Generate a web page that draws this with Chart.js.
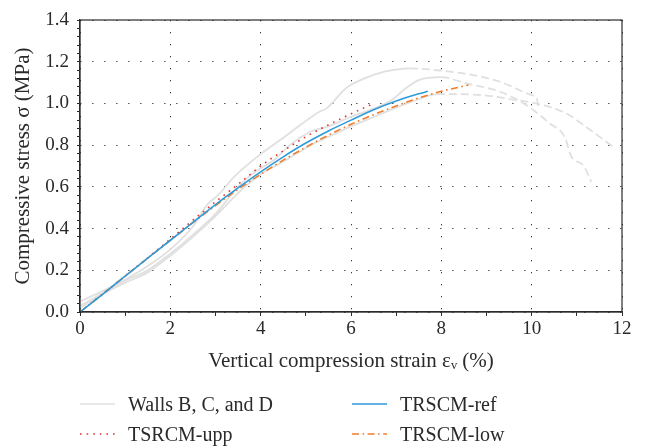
<!DOCTYPE html>
<html><head><meta charset="utf-8">
<script src="https://cdn.jsdelivr.net/npm/chart.js@4"></script>
<style>
html,body{margin:0;padding:0;background:#fff;}
#wrap{position:relative;width:646px;height:446px;overflow:hidden;}
#c{position:absolute;left:0;top:0;}
.item{position:absolute;height:24px;display:flex;align-items:center;font-family:"Liberation Serif","DejaVu Serif",serif;font-size:20px;color:#2a2a2a;white-space:nowrap;}
.item svg{margin-right:13px;}
</style></head><body>
<div id="wrap"><canvas id="c" width="646" height="446"></canvas><div id="legend"></div></div>
<script>
// ---- data ----
const seriesNames = ["Walls B, C, and D", "TSRCM-upp", "TRSCM-ref", "TRSCM-low"];

const wallBx = [0,0.5,1,1.5,2,2.5,2.8,3.1,3.4,3.9,4.5,4.9,5.3,5.45,5.9,6.3,6.7,7.0,7.3,8.0,8.7,9.3,10.0,10.12,10.15];
const wallBy = [0.05,0.1,0.155,0.22,0.3,0.41,0.51,0.57,0.645,0.74,0.835,0.9,0.96,0.975,1.075,1.12,1.15,1.162,1.168,1.157,1.136,1.104,1.04,1.02,0.97];

const wallCx = [0,0.5,1,1.5,2,2.5,3,3.5,3.8,4.3,4.65,5.1,5.5,6,6.5,6.9,7.2,7.5,8.0,8.55,9.3,9.88,10.4,10.73,10.88,11.14,11.32];
const wallCy = [0.03,0.09,0.15,0.2,0.28,0.37,0.47,0.6,0.66,0.73,0.8,0.864,0.89,0.936,0.975,1.016,1.07,1.112,1.126,1.096,1.056,0.992,0.904,0.84,0.744,0.704,0.624];

const wallDx = [0,0.5,1,1.5,2,2.5,3,3.5,4,4.5,4.8,5.2,5.6,6,6.5,7,7.5,7.9,8.9,9.66,10.1,10.77,11.2,11.8];
const wallDy = [0.02,0.085,0.14,0.19,0.27,0.36,0.46,0.57,0.66,0.72,0.76,0.81,0.85,0.89,0.935,0.98,1.02,1.045,1.04,1.016,1.0,0.952,0.888,0.792];

// strain beyond which each wall curve is drawn dashed (post-peak)
const wallPeakX = [7.3, 8.0, 7.9];

const uppX = [0,0.5,1,1.5,2,2.5,3,3.5,4,4.5,5,5.5,6,6.5];
const uppY = [0,0.086,0.173,0.26,0.35,0.44,0.528,0.612,0.7,0.773,0.84,0.897,0.95,1.0];

const refX = [0,0.5,1,1.5,2,2.5,3,3.5,4,4.5,5,5.5,6,6.5,7,7.5,7.7];
const refY = [0,0.085,0.172,0.258,0.344,0.43,0.515,0.595,0.672,0.744,0.81,0.868,0.92,0.97,1.012,1.046,1.058];

const lowX = [0,0.5,1,1.5,2,2.5,3,3.5,4,4.5,5,5.5,6,6.5,7,7.5,8,8.6];
const lowY = [0,0.085,0.172,0.258,0.343,0.428,0.51,0.588,0.66,0.728,0.79,0.848,0.9,0.946,0.988,1.026,1.058,1.088];

const xTickLabels = ["0","2","4","6","8","10","12"];
const yTickLabels = ["0.0","0.2","0.4","0.6","0.8","1.0","1.2","1.4"];

// ---- build ----
const pts = (xs, ys) => xs.map((x, i) => ({x, y: ys[i]}));
const GRAY = '#e0e0e0', RED = '#e8322c', BLUE = '#2f9ad8', ORANGE = '#ef7d2b';
const SERIF = '"Liberation Serif", "DejaVu Serif", serif';
const DOTS = [1.6, 5], DASHDOT = [7, 3.5, 1.6, 3.5];

function wall(xs, ys, peak) {
  return {
    label: seriesNames[0], data: pts(xs, ys), borderColor: GRAY, borderWidth: 1.8,
    pointRadius: 0, cubicInterpolationMode: 'monotone', order: 10,
    segment: { borderDash: c => (c.p0.parsed.x >= peak - 1e-9 ? [8, 4] : undefined) }
  };
}

const datasets = [
  wall(wallBx, wallBy, wallPeakX[0]),
  wall(wallCx, wallCy, wallPeakX[1]),
  wall(wallDx, wallDy, wallPeakX[2]),
  { label: seriesNames[1], data: pts(uppX, uppY), borderColor: RED, borderWidth: 1.6, borderDash: DOTS,
    pointRadius: 0, cubicInterpolationMode: 'monotone', order: 3 },
  { label: seriesNames[2], data: pts(refX, refY), borderColor: BLUE, borderWidth: 1.6,
    pointRadius: 0, cubicInterpolationMode: 'monotone', order: 1 },
  { label: seriesNames[3], data: pts(lowX, lowY), borderColor: ORANGE, borderWidth: 1.6, borderDash: DASHDOT,
    pointRadius: 0, cubicInterpolationMode: 'monotone', order: 2 }
];

const isMult = (v, s) => Math.abs(v / s - Math.round(v / s)) < 1e-6;

const frame = {
  id: 'frame',
  afterDraw(chart) {
    const {ctx, chartArea: a} = chart;
    ctx.save();
    ctx.strokeStyle = '#2b2b2b';
    ctx.lineWidth = 1.2;
    ctx.strokeRect(a.left, a.top, a.right - a.left, a.bottom - a.top);
    ctx.restore();
  }
};

new Chart(document.getElementById('c'), {
  type: 'line',
  data: { datasets },
  plugins: [frame],
  options: {
    responsive: false, animation: false,
    layout: { padding: { left: 7, right: 24, top: 20, bottom: 68 } },
    plugins: { legend: { display: false }, tooltip: { enabled: false } },
    scales: {
      x: {
        type: 'linear', min: 0, max: 12,
        afterFit: s => { s.height = 66; },
        ticks: {
          stepSize: 1, autoSkip: false, maxRotation: 0, padding: 2, color: '#2a2a2a',
          font: { family: SERIF, size: 19 },
          callback: v => (isMult(v, 2) ? xTickLabels[Math.round(v / 2)] : '')
        },
        grid: {
          color: c => (c.tick && isMult(c.tick.value, 2) ? '#3a3a3a' : 'rgba(0,0,0,0)'),
          lineWidth: 1, tickLength: 4, tickColor: '#2b2b2b', tickWidth: 1
        },
        border: { display: true, color: '#2b2b2b', width: 1.2, dash: [1.3, 10.7] },
        title: { display: true, text: 'Vertical compression strain εᵥ (%)', color: '#2a2a2a',
                 font: { family: SERIF, size: 21 }, padding: { top: 4, bottom: 4 } }
      },
      y: {
        type: 'linear', min: 0, max: 1.4,
        afterFit: s => { s.width = 73; },
        ticks: {
          stepSize: 0.04, autoSkip: false, padding: 8, color: '#2a2a2a',
          font: { family: SERIF, size: 19 },
          callback: v => (isMult(v, 0.2) ? yTickLabels[Math.round(v / 0.2)] : '')
        },
        grid: {
          color: c => (c.tick && isMult(c.tick.value, 0.2) ? '#3a3a3a' : 'rgba(0,0,0,0)'),
          lineWidth: 1, tickLength: 3, tickColor: '#2b2b2b', tickWidth: 1
        },
        border: { display: true, color: '#2b2b2b', width: 1.2, dash: [1.3, 10.7] },
        title: { display: true, text: 'Compressive stress σ (MPa)', color: '#2a2a2a',
                 font: { family: SERIF, size: 21 }, padding: { top: 4, bottom: 4 } }
      }
    }
  }
});

// ---- HTML legend (2 x 2 grid) ----
const legendStyle = [
  { color: GRAY, dash: [] }, { color: RED, dash: DOTS },
  { color: BLUE, dash: [] }, { color: ORANGE, dash: DASHDOT }
];
const legendPos = [[80, 392], [80, 422], [352, 392], [352, 422]];
const lg = document.getElementById('legend');
seriesNames.forEach((name, i) => {
  const d = document.createElement('div');
  d.className = 'item';
  d.style.left = legendPos[i][0] + 'px';
  d.style.top = legendPos[i][1] + 'px';
  const st = legendStyle[i];
  d.innerHTML = '<svg width="35" height="6"><line x1="0" y1="3" x2="35" y2="3" stroke="' + st.color +
    '" stroke-width="1.6"' + (st.dash.length ? ' stroke-dasharray="' + st.dash.join(' ') + '"' : '') + '/></svg>';
  const t = document.createElement('span');
  t.textContent = name;
  d.appendChild(t);
  lg.appendChild(d);
});
</script>
</body></html>
